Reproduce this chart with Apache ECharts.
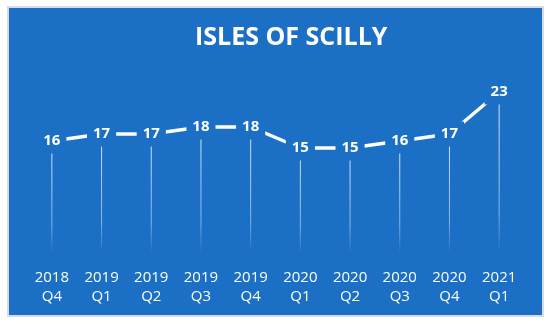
<!DOCTYPE html>
<html>
<head>
<meta charset="utf-8">
<script src="https://cdn.jsdelivr.net/npm/echarts@6/dist/echarts.min.js"></script>
<style>
html,body{margin:0;padding:0;background:#fff;}
#chart{width:550px;height:324px;}
</style>
</head>
<body>
<div id="chart"></div>
<script>
var title = 'ISLES OF SCILLY';
var categories = ['2018\nQ4','2019\nQ1','2019\nQ2','2019\nQ3','2019\nQ4','2020\nQ1','2020\nQ2','2020\nQ3','2020\nQ4','2021\nQ1'];
var values = [16, 17, 17, 18, 18, 15, 15, 16, 17, 23];

var BLUE = '#1b70c5';
var chart = echarts.init(document.getElementById('chart'), null, {renderer: 'canvas'});
chart.setOption({
  backgroundColor: '#ffffff',
  animation: false,
  graphic: [{
    type: 'rect', z: -10,
    shape: {x: 8, y: 7, width: 535, height: 309},
    style: {fill: BLUE, stroke: '#d3dce8', lineWidth: 2}
  }],
  title: {
    text: title, left: 190, top: 20,
    textStyle: {color: '#ffffff', fontFamily: 'Open Sans', fontWeight: 'bold', fontSize: 25}
  },
  grid: {left: 27, right: 26, top: 78, bottom: 71},
  xAxis: {
    type: 'category', data: categories, boundaryGap: true,
    axisLine: {show: false}, axisTick: {show: false}, splitLine: {show: false},
    axisLabel: {interval: 0, color: '#ffffff', fontFamily: 'Open Sans', fontSize: 15, lineHeight: 19, margin: 15}
  },
  yAxis: {
    type: 'value', min: 0, max: 25, show: false
  },
  series: [{
    type: 'bar', data: values, barWidth: 1, z: 1,
    itemStyle: {
      color: new echarts.graphic.LinearGradient(0, 0, 0, 1, [
        {offset: 0, color: 'rgba(255,255,255,0.85)'},
        {offset: 0.75, color: 'rgba(255,255,255,0.45)'},
        {offset: 1, color: 'rgba(255,255,255,0)'}
      ])
    }
  }, {
    type: 'line', data: values, z: 3,
    symbol: 'circle', symbolSize: 1,
    itemStyle: {color: BLUE},
    lineStyle: {color: '#ffffff', width: 3.5},
    label: {
      show: true, position: 'inside', color: '#ffffff',
      fontFamily: 'Open Sans', fontWeight: 'bold', fontSize: 15,
      backgroundColor: BLUE, padding: [4, 6, 6, 6]
    }
  }]
});
</script>
</body>
</html>
